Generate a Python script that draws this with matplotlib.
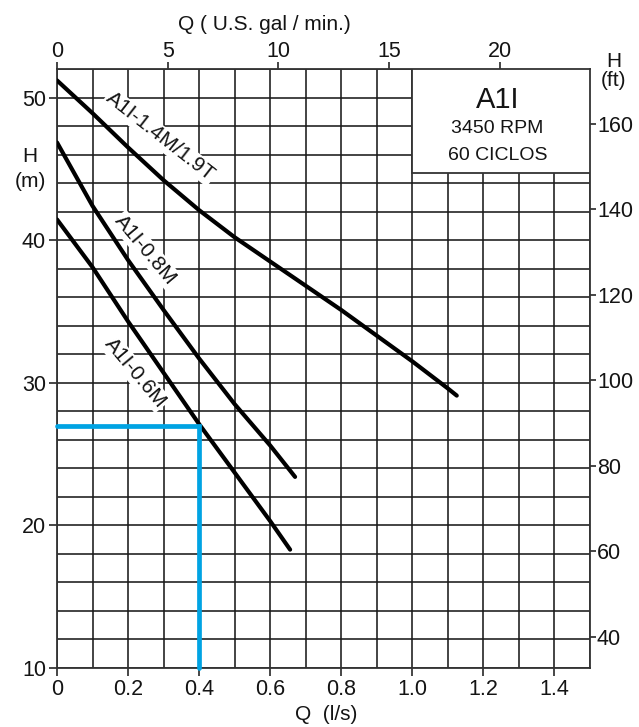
import matplotlib.pyplot as plt
from matplotlib.patches import Rectangle

plt.rcParams['font.family'] = ['Liberation Sans', 'DejaVu Sans']

# curve data: Q in l/s, H in m
q_14m = [0, 0.1, 0.2, 0.3, 0.4, 0.5, 0.6, 0.7, 0.8, 0.9, 1.0, 1.1, 1.125]
h_14m = [51.2, 48.9, 46.5, 44.2, 42.1, 40.2, 38.5, 36.8, 35.1, 33.3, 31.5, 29.6, 29.1]
q_08m = [0, 0.1, 0.2, 0.3, 0.4, 0.5, 0.6, 0.67]
h_08m = [46.85, 42.4, 38.6, 35.1, 31.7, 28.5, 25.6, 23.4]
q_06m = [0, 0.1, 0.2, 0.3, 0.4, 0.5, 0.6, 0.656]
h_06m = [41.45, 38.1, 34.3, 30.7, 27.1, 23.7, 20.3, 18.3]

duty_q = 0.4
duty_h = 27

lps_ticks = [0, 0.2, 0.4, 0.6, 0.8, 1.0, 1.2, 1.4]
lps_labels = ['0', '0.2', '0.4', '0.6', '0.8', '1.0', '1.2', '1.4']
m_ticks = [10, 20, 30, 40, 50]
gpm_ticks = [0, 5, 10, 15, 20]
ft_ticks = [40, 60, 80, 100, 120, 140, 160]

# scale factors as drawn on the sheet
GPM_PER_LPS = 16.05
def lps2gpm(q): return q * GPM_PER_LPS
def gpm2lps(g): return g / GPM_PER_LPS
def m2ft(h): return 40 + 3.335 * (h - 12.19)
def ft2m(f): return 12.19 + (f - 40) / 3.335

INK = '#141414'

fig = plt.figure(figsize=(6.39, 7.27), dpi=100)
ax = fig.add_axes([57/639, 59/727, 533/639, 599/727])
ax.set_xlim(0, 1.5)
ax.set_ylim(10, 52)

# grid
for i in range(16):
    ax.axvline(i * 0.1, color='#1a1a1a', lw=1.15, zorder=1)
for h in range(10, 53, 2):
    ax.axhline(h, color='#1a1a1a', lw=1.15, zorder=1)

for s in ax.spines.values():
    s.set_linewidth(1.3)
    s.set_color('#333333')

ax.set_xticks(lps_ticks)
ax.set_xticklabels(lps_labels)
ax.set_yticks(m_ticks)
ax.tick_params(direction='out', length=6, width=1.1, labelsize=15.5, pad=2, colors=INK)

sec_x = ax.secondary_xaxis('top', functions=(lps2gpm, gpm2lps))
sec_x.set_xticks(gpm_ticks)
sec_x.tick_params(direction='out', length=5, width=1.1, labelsize=15.5, pad=0, colors=INK)
sec_x.spines['top'].set_visible(False)

sec_y = ax.secondary_yaxis('right', functions=(m2ft, ft2m))
sec_y.set_yticks(ft_ticks)
sec_y.tick_params(direction='out', length=4, width=1.1, labelsize=15.5, pad=1, colors=INK)
sec_y.spines['right'].set_visible(False)

# pump curves
for q, h in [(q_14m, h_14m), (q_08m, h_08m), (q_06m, h_06m)]:
    ax.plot(q, h, color='black', lw=3, solid_capstyle='round', zorder=4)

# duty point
ax.plot([0, duty_q, duty_q], [duty_h, duty_h, 10], color='#00a3e3', lw=3.4,
        solid_capstyle='round', solid_joinstyle='miter', zorder=5, clip_on=False)

lbl = dict(fontsize=15, ha='center', va='center', rotation_mode='anchor', color=INK,
           zorder=3, bbox=dict(facecolor='white', edgecolor='none', pad=1))
ax.text(0.29, 47.25, 'A1I-1.4M/1.9T', rotation=-38, **lbl)
ax.text(0.25, 39.3, 'A1I-0.8M', rotation=-50, **lbl)
ax.text(0.22, 30.7, 'A1I-0.6M', rotation=-50, **lbl)

# model box
ax.add_patch(Rectangle((1.0, 44.7), 0.5, 7.3, facecolor='white', edgecolor='#333333',
                       lw=1.3, zorder=3))
ax.text(1.24, 49.8, 'A1I', fontsize=21, ha='center', va='center', zorder=4, color=INK)
ax.text(1.24, 47.8, '3450 RPM', fontsize=14, ha='center', va='center', zorder=4, color=INK)
ax.text(1.24, 45.95, '60 CICLOS', fontsize=14, ha='center', va='center', zorder=4, color=INK)

# axis titles
fig.text(264/639, 1 - 25/727, 'Q ( U.S. gal / min.)', fontsize=15, ha='center', va='center', color=INK)
fig.text(326/639, 1 - 715/727, 'Q  (l/s)', fontsize=15, ha='center', va='center', color=INK)
fig.text(30/639, 1 - 169/727, 'H\n(m)', fontsize=15, ha='center', va='center', linespacing=1.45, color=INK)
fig.text(614/639, 1 - 71/727, 'H\n(ft)', fontsize=15, ha='center', va='center', linespacing=1.0, color=INK)

fig.savefig('out.png', dpi=100)
